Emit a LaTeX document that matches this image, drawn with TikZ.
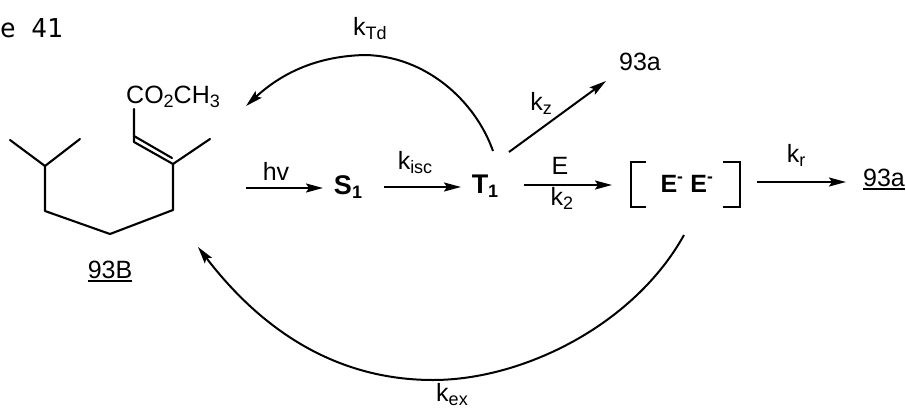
\documentclass[tikz,border=0pt]{standalone}
\usepackage{fontspec}
\setmainfont{Liberation Sans}
\setmonofont{DejaVu Sans Mono}
\usetikzlibrary{calc,arrows.meta,positioning}
\newcommand{\lowtext}[1]{\raisebox{-4pt}{\fontsize{18}{18}\selectfont #1}}

\begin{document}
\begin{tikzpicture}[
  x=1pt, y=-1pt,
  every node/.style={font=\fontsize{25}{27}\selectfont, inner sep=0pt},
  state/.style={font=\fontsize{27}{29}\selectfont\bfseries},
  arr/.style={line width=2pt, -{Stealth[length=17pt,width=9pt,inset=3pt]}},
  bond/.style={line width=2.1pt, line join=round, line cap=round},
  bracket/.style={line width=2.1pt, line join=miter},
  rulebar/.style={line width=1.7pt}
]
  \useasboundingbox (0,0) rectangle (906,410);

  \node[font=\fontsize{26}{28}\selectfont\ttfamily, anchor=base east] (scheme) at (63,37) {e 41};

  % the molecule
  \coordinate (me1) at (10,140);
  \coordinate (me2) at (80,139);
  \coordinate (ch) at (45,166);
  \coordinate (c1) at (45,211);
  \coordinate (c2) at (110,234);
  \coordinate (c3) at (173,210);
  \coordinate (c4) at (173,164);
  \coordinate (c5) at (134,142);
  \coordinate (me3) at (210,139);
  \coordinate (c6) at (134,109);
  \draw[bond] (me1) -- (ch) -- (me2);
  \draw[bond] (ch) -- (c1) -- (c2) -- (c3) -- (c4) -- (me3);
  \draw[bond] (c4) -- (c5) -- (c6);
  \draw[bond] (172,158) -- (134,136);
  \node[anchor=base west] (ester) at (126,103) {CO\lowtext{2}CH\lowtext{3}};
  \node[anchor=base] (mol) at (110,278) {93B};
  \draw[rulebar] ([yshift=-3pt]mol.base west) -- ([yshift=-3pt]mol.base east);

  \coordinate (molout) at (246,188);
  \coordinate (moltop) at (246,106);
  \coordinate (molbot) at (198,247);

  \node[anchor=base] (hv) at (276,180) {hv};
  \node[state, anchor=base] (s1) at (348,194) {S\lowtext{1}};
  \node[state, anchor=base] (t1) at (485,193) {T\lowtext{1}};
  \node[anchor=base] (kisc) at (415,169) {k\lowtext{isc}};
  \node[anchor=base] (ktd) at (370,35) {k\lowtext{Td}};
  \node[anchor=base] (kz) at (541,110) {k\lowtext{z}};
  \node[anchor=base] (top93a) at (640,70) {93a};
  \node[anchor=base] (e) at (560,174) {E};
  \node[anchor=base] (k2) at (562,205) {k\lowtext{2}};
  \node[state, font=\fontsize{25}{27}\selectfont\bfseries, anchor=base] (pair) at (687,192) {E\textsuperscript{-} E\textsuperscript{-}};
  \node[anchor=base] (kr) at (796,162) {k\lowtext{r}};
  \node[anchor=base] (end93a) at (884,186) {93a};
  \draw[rulebar] ([yshift=-3pt]end93a.base west) -- ([yshift=-3pt]end93a.base east);
  \node[anchor=base] (kex) at (452,401) {k\lowtext{ex}};

  \draw[bracket] (646,162) -| (631,207) -- (646,207);
  \draw[bracket] (723,162) -| (740,207) -- (723,207);

  \coordinate (t1top) at (493,151);
  \coordinate (t1right) at (509,152);
  \coordinate (t1out) at (524,185);
  \coordinate (pairin) at (612,185);
  \coordinate (pairout) at (757,182);
  \coordinate (prodin) at (846,182);
  \coordinate (pairbot) at (684,235);

  \draw[arr] (molout) -- (323,188);
  \draw[arr] (384,187) -- (461,187);
  \draw[arr] (t1out) -- (pairin);
  \draw[arr] (pairout) -- (prodin);
  \draw[arr] (t1right) -- (606,81);
  \draw[arr] (t1top) .. controls +(-18,-51) and +(60,1) .. (365,55) .. controls +(-45,1) and +(38,-35) .. (moltop);
  \draw[arr] (pairbot) .. controls +(-50,90) and +(90,0) .. (433,380) .. controls +(-95,0) and +(65,85) .. (molbot);
\end{tikzpicture}
\end{document}
